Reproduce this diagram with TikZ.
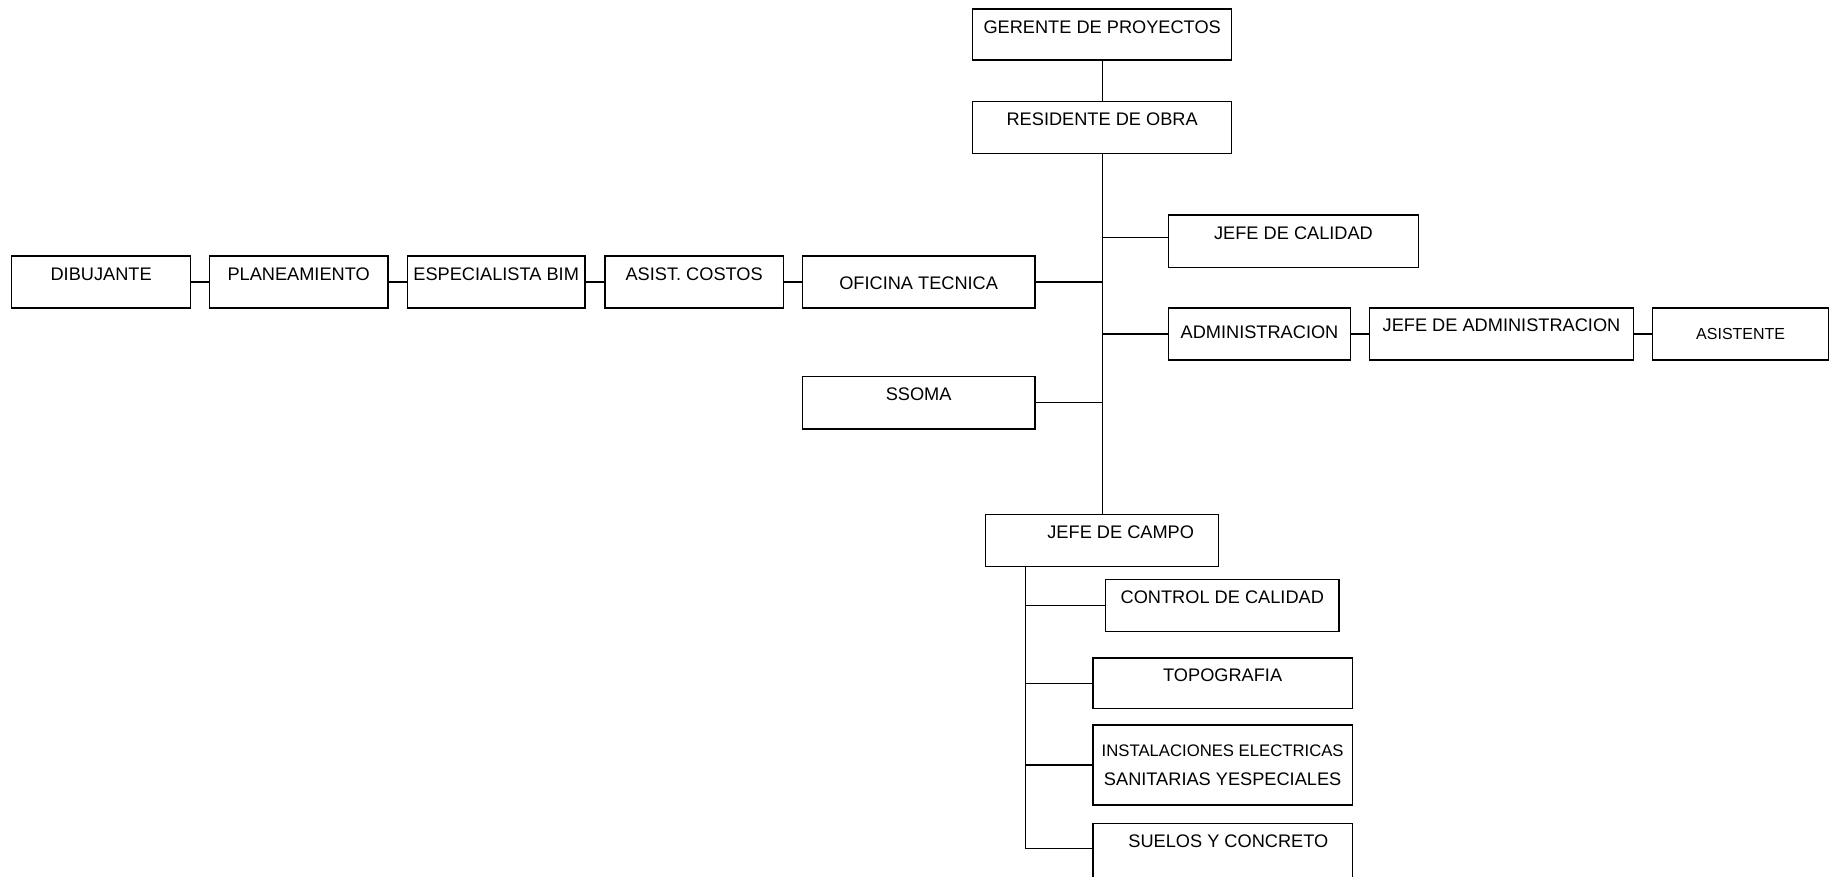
\documentclass[tikz,border=0pt]{standalone}
\usepackage{fontspec}
\setmainfont{Liberation Sans}
\begin{document}
\begin{tikzpicture}[x=1pt,y=-1pt,
  box/.style={draw, line width=1.3pt, inner sep=0pt, anchor=north west,
    font=\fontsize{18.2}{22}\selectfont},
  link/.style={line width=1.3pt}]
\useasboundingbox (0,0) rectangle (1830,877);
\clip (0,0) rectangle (1830,877);

% top
\node[box, minimum width=259pt, text height=25pt, text depth=26pt] (ger) at (972,8.3) {GERENTE DE PROYECTOS};
\node[box, minimum width=259pt, text height=24.3pt, text depth=27.7pt] (res) at (972,100.7) {RESIDENTE DE OBRA};

% right branches
\node[box, minimum width=250.3pt, text height=25pt, text depth=27.7pt] (cal) at (1167.7,214.3) {JEFE DE CALIDAD};
\node[box, minimum width=182.3pt, text height=31pt, text depth=21pt] (adm) at (1167.7,307.3) {ADMINISTRACION};
\node[box, minimum width=263.7pt, text height=23.7pt, text depth=28.3pt] (jadm) at (1369,307.3) {JEFE DE ADMINISTRACION};
\node[box, minimum width=176pt, text height=31.7pt, text depth=20.3pt, font=\fontsize{16}{20}\selectfont] (asi) at (1652,307.3) {ASISTENTE};

% left chain
\node[box, minimum width=232.6pt, text height=33.6pt, text depth=18.4pt] (ofi) at (801.7,255.3) {OFICINA TECNICA};
\node[box, minimum width=178.4pt, text height=25pt, text depth=27pt] (cos) at (604.3,255.3) {ASIST. COSTOS};
\node[box, minimum width=177.6pt, text height=25pt, text depth=27pt] (bim) at (406.7,255.3) {ESPECIALISTA BIM};
\node[box, minimum width=178.6pt, text height=25pt, text depth=27pt] (pla) at (208.7,255.3) {PLANEAMIENTO};
\node[box, minimum width=179pt, text height=25pt, text depth=27pt] (dib) at (11,255.3) {DIBUJANTE};
\node[box, minimum width=232.6pt, text height=24.3pt, text depth=28pt] (sso) at (801.7,376) {SSOMA};

% field
\node[box, minimum width=233.4pt, text height=23.7pt, text depth=28pt] (cam) at (984.5,514) {\hspace*{37.7pt}JEFE DE CAMPO};
\node[box, minimum width=233.3pt, text height=24.3pt, text depth=27.4pt] (ctl) at (1105,579) {CONTROL DE CALIDAD};
\node[box, minimum width=259.4pt, text height=23.7pt, text depth=26.7pt] (top) at (1092.3,657.3) {TOPOGRAFIA};
\node[box, minimum width=259.4pt, minimum height=80pt, align=center, font=\fontsize{18.2}{29}\selectfont] (ins) at (1092.3,724.3)
  {{\fontsize{16.7}{29}\selectfont INSTALACIONES ELECTRICAS}\\SANITARIAS YESPECIALES};
\node[box, minimum width=259.4pt, text height=24pt, text depth=36pt] (sue) at (1092.3,822.7) {\hspace*{11.4pt}SUELOS Y CONCRETO};

% connectors
\draw[link] (ger.south) -- (res.north);
\draw[link] (res.south) -- (res.south |- cam.north);
\draw[link] ([yshift=3.9pt]res.south |- cal.west) -- ([yshift=3.9pt]cal.west);
\draw[link] (res.south |- ofi.east) -- (ofi.east);
\draw[link] (res.south |- adm.west) -- (adm.west);
\draw[link] (res.south |- sso.east) -- (sso.east);
\draw[link] (adm.east) -- (jadm.west);
\draw[link] (jadm.east) -- (asi.west);
\draw[link] (ofi.west) -- (cos.east);
\draw[link] (cos.west) -- (bim.east);
\draw[link] (bim.west) -- (pla.east);
\draw[link] (pla.west) -- (dib.east);
\coordinate (ft) at ([xshift=41.2pt]cam.south west);
\draw[link] (ft) |- ([yshift=5pt]sue.west);
\draw[link] (ft |- ctl.west) -- (ctl.west);
\draw[link] (ft |- top.west) -- (top.west);
\draw[link] (ft |- ins.west) -- (ins.west);
\end{tikzpicture}
\end{document}
